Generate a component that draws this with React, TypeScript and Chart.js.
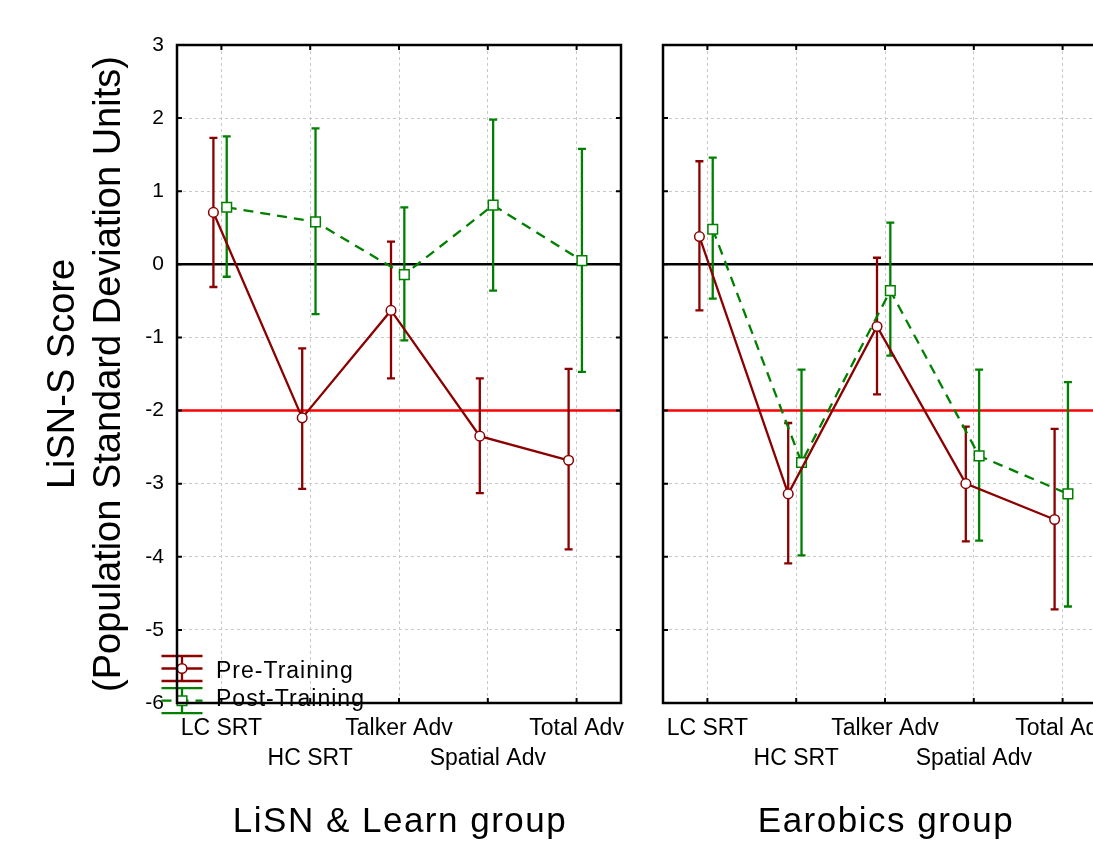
import React, { useEffect, useRef } from 'react';
import { Chart, registerables } from 'chart.js';

Chart.register(...registerables);

// ---------- data ----------
const categories = ['LC SRT', 'HC SRT', 'Talker Adv', 'Spatial Adv', 'Total Adv'];
const groupTitles = ['LiSN & Learn group', 'Earobics group'];
const seriesLabels = ['Pre-Training', 'Post-Training'];
const yTitleLines = ['LiSN-S Score', '(Population Standard Deviation Units)'];

// LiSN & Learn group
const lisnPre = [0.71, -2.1, -0.63, -2.35, -2.68];
const lisnPreLow = [-0.31, -3.07, -1.56, -3.13, -3.9];
const lisnPreHigh = [1.73, -1.15, 0.31, -1.56, -1.43];
const lisnPost = [0.78, 0.58, -0.14, 0.81, 0.05];
const lisnPostLow = [-0.17, -0.68, -1.04, -0.36, -1.47];
const lisnPostHigh = [1.75, 1.86, 0.78, 1.98, 1.58];

// Earobics group
const earoPre = [0.38, -3.14, -0.85, -3.0, -3.49];
const earoPreLow = [-0.63, -4.09, -1.78, -3.79, -4.72];
const earoPreHigh = [1.41, -2.17, 0.09, -2.22, -2.25];
const earoPost = [0.48, -2.71, -0.36, -2.62, -3.14];
const earoPostLow = [-0.47, -3.98, -1.25, -3.78, -4.68];
const earoPostHigh = [1.46, -1.44, 0.57, -1.44, -1.61];

const zeroValue = 0;
const cutoffValue = -2;
const yMin = -6;
const yMax = 3;

// ---------- style ----------
const PRE_COLOR = '#8b0000';
const POST_COLOR = '#008000';
const GRID_COLOR = '#c8c8c8';
const FONT = "'Liberation Sans', Arial, sans-serif";
const PRE_OFFSET = -0.09;
const POST_OFFSET = 0.06;
const POST_DASH = [10, 7];

type Panel = {
  title: string;
  pre: number[];
  preLow: number[];
  preHigh: number[];
  post: number[];
  postLow: number[];
  postHigh: number[];
};

const panels: Panel[] = [
  { title: groupTitles[0], pre: lisnPre, preLow: lisnPreLow, preHigh: lisnPreHigh, post: lisnPost, postLow: lisnPostLow, postHigh: lisnPostHigh },
  { title: groupTitles[1], pre: earoPre, preLow: earoPreLow, preHigh: earoPreHigh, post: earoPost, postLow: earoPostLow, postHigh: earoPostHigh },
];

function errorBarPlugin(p: Panel) {
  const bars = [
    { offset: PRE_OFFSET, low: p.preLow, high: p.preHigh, color: PRE_COLOR },
    { offset: POST_OFFSET, low: p.postLow, high: p.postHigh, color: POST_COLOR },
  ];
  return {
    id: 'errorBars',
    beforeDatasetDraw(chart: any, args: any) {
      if (args.index !== 1) return;
      const { ctx } = chart;
      const x = chart.scales.x;
      const y = chart.scales.y;
      ctx.save();
      ctx.lineWidth = 2.3;
      for (const b of bars) {
        ctx.strokeStyle = b.color;
        b.low.forEach((lo, i) => {
          const px = x.getPixelForValue(i + b.offset);
          const y1 = y.getPixelForValue(lo);
          const y2 = y.getPixelForValue(b.high[i]);
          ctx.beginPath();
          ctx.moveTo(px, y1);
          ctx.lineTo(px, y2);
          ctx.moveTo(px - 4, y1);
          ctx.lineTo(px + 4, y1);
          ctx.moveTo(px - 4, y2);
          ctx.lineTo(px + 4, y2);
          ctx.stroke();
        });
      }
      ctx.restore();
    },
  };
}

const legendPlugin = {
  id: 'customLegend',
  afterDatasetsDraw(chart: any) {
    const { ctx } = chart;
    const { left, bottom } = chart.chartArea;
    const cx = left + 5;
    const x0 = cx - 20.5;
    const x1 = cx + 20.5;
    const rows = [
      { mid: bottom - 34.5, color: PRE_COLOR, dash: [] as number[], marker: 'circle', text: seriesLabels[0], base: 9 },
      { mid: bottom - 2.3, color: POST_COLOR, dash: POST_DASH, marker: 'rect', text: seriesLabels[1], base: 5 },
    ];
    ctx.save();
    for (const r of rows) {
      ctx.strokeStyle = r.color;
      ctx.lineWidth = 2.3;
      ctx.setLineDash([]);
      ctx.beginPath();
      ctx.moveTo(x0, r.mid - 12.5);
      ctx.lineTo(x1, r.mid - 12.5);
      ctx.moveTo(x0, r.mid + 12.5);
      ctx.lineTo(x1, r.mid + 12.5);
      ctx.moveTo(cx, r.mid - 12.5);
      ctx.lineTo(cx, r.mid + 12.5);
      ctx.stroke();
      ctx.setLineDash(r.dash);
      ctx.beginPath();
      ctx.moveTo(x0, r.mid);
      ctx.lineTo(x1, r.mid);
      ctx.stroke();
      ctx.setLineDash([]);
      ctx.fillStyle = '#fff';
      ctx.lineWidth = 1.5;
      ctx.beginPath();
      if (r.marker === 'circle') {
        ctx.arc(cx, r.mid, 4.8, 0, Math.PI * 2);
      } else {
        ctx.rect(cx - 4.8, r.mid - 4.8, 9.6, 9.6);
      }
      ctx.fill();
      ctx.stroke();
      ctx.fillStyle = '#000';
      ctx.font = `23px ${FONT}`;
      (ctx as any).letterSpacing = '1px';
      ctx.textAlign = 'left';
      ctx.textBaseline = 'alphabetic';
      ctx.fillText(r.text, left + 39, r.mid + r.base);
      (ctx as any).letterSpacing = '0px';
    }
    ctx.restore();
  },
};

function framePlugin(title: string, withYTitle: boolean) {
  return {
    id: 'frame',
    afterDraw(chart: any) {
      const { ctx } = chart;
      const { left, right, top, bottom } = chart.chartArea;
      const x = chart.scales.x;
      const y = chart.scales.y;
      ctx.save();
      ctx.strokeStyle = '#000';
      ctx.lineWidth = 2.5;
      ctx.strokeRect(left, top, right - left, bottom - top);
      ctx.lineWidth = 2;
      ctx.beginPath();
      for (const t of y.ticks) {
        if (t.value === yMin || t.value === yMax) continue;
        const py = y.getPixelForValue(t.value);
        ctx.moveTo(left, py);
        ctx.lineTo(left + 5, py);
        ctx.moveTo(right, py);
        ctx.lineTo(right - 5, py);
      }
      for (const t of x.ticks) {
        const px = x.getPixelForValue(t.value);
        ctx.moveTo(px, top);
        ctx.lineTo(px, top + 5);
        ctx.moveTo(px, bottom);
        ctx.lineTo(px, bottom - 5);
      }
      ctx.stroke();

      // group title
      ctx.fillStyle = '#000';
      ctx.font = `35px ${FONT}`;
      (ctx as any).letterSpacing = '1.5px';
      ctx.textAlign = 'center';
      ctx.textBaseline = 'alphabetic';
      ctx.fillText(title, (left + right) / 2 + 1, 832);
      (ctx as any).letterSpacing = '0px';

      if (withYTitle) {
        const cy = (top + bottom) / 2;
        ctx.font = `38px ${FONT}`;
        ctx.save();
        ctx.translate(73.5, cy);
        ctx.rotate(-Math.PI / 2);
        ctx.fillText(yTitleLines[0], 0, 0);
        ctx.restore();
        ctx.save();
        ctx.translate(120, cy);
        ctx.rotate(-Math.PI / 2);
        ctx.fillText(yTitleLines[1], 0, 0);
        ctx.restore();
      }
      ctx.restore();
    },
  };
}

function makeConfig(p: Panel, yAxisWidth: number, padRight: number, first: boolean): any {
  const toPts = (vals: number[], off: number) => vals.map((v, i) => ({ x: i + off, y: v }));
  const span = (v: number) => [
    { x: -0.5, y: v },
    { x: categories.length - 0.5, y: v },
  ];
  const plugins: any[] = [errorBarPlugin(p)];
  if (first) plugins.push(legendPlugin);
  plugins.push(framePlugin(p.title, first));
  return {
    type: 'line',
    data: {
      datasets: [
        {
          label: seriesLabels[0],
          data: toPts(p.pre, PRE_OFFSET),
          borderColor: PRE_COLOR,
          borderWidth: 2.3,
          pointStyle: 'circle',
          pointRadius: 4.8,
          pointBorderWidth: 1.5,
          pointBackgroundColor: '#fff',
          pointBorderColor: PRE_COLOR,
          tension: 0,
          fill: false,
        },
        {
          label: seriesLabels[1],
          data: toPts(p.post, POST_OFFSET),
          borderColor: POST_COLOR,
          borderWidth: 2.3,
          borderDash: POST_DASH,
          pointStyle: 'rect',
          pointRadius: 6.8,
          pointBorderWidth: 1.5,
          pointBackgroundColor: '#fff',
          pointBorderColor: POST_COLOR,
          tension: 0,
          fill: false,
        },
        {
          label: 'zero',
          data: span(zeroValue),
          borderColor: '#000',
          borderWidth: 2.5,
          pointRadius: 0,
        },
        {
          label: 'cutoff',
          data: span(cutoffValue),
          borderColor: '#ff0000',
          borderWidth: 2.5,
          pointRadius: 0,
        },
      ],
    },
    options: {
      animation: false,
      responsive: false,
      maintainAspectRatio: false,
      events: [],
      layout: { padding: { top: 45, right: padRight, bottom: 0, left: 0 } },
      plugins: { legend: { display: false }, tooltip: { enabled: false }, title: { display: false } },
      scales: {
        x: {
          type: 'linear',
          min: -0.5,
          max: categories.length - 0.5,
          afterBuildTicks: (s: any) => {
            s.ticks = categories.map((_, i) => ({ value: i }));
          },
          afterFit: (s: any) => {
            s.height = 138;
          },
          grid: { color: GRID_COLOR, lineWidth: 1, drawTicks: false },
          border: { display: false, dash: [3, 3] },
          ticks: {
            autoSkip: false,
            maxRotation: 0,
            minRotation: 0,
            padding: 11,
            color: '#000',
            font: { family: FONT, size: 23, lineHeight: '30px' },
            callback: (v: any) => {
              const i = Math.round(Number(v));
              return i % 2 === 0 ? [categories[i]] : ['', categories[i]];
            },
          },
        },
        y: {
          min: yMin,
          max: yMax,
          afterFit: (s: any) => {
            s.width = yAxisWidth;
          },
          grid: { color: GRID_COLOR, lineWidth: 1, drawTicks: false },
          border: { display: false, dash: [3, 3] },
          ticks: {
            stepSize: 1,
            display: first,
            padding: 13,
            color: '#000',
            font: { family: FONT, size: 21 },
          },
        },
      },
    },
    plugins,
  };
}

function PanelChart({ panel, left, width, yAxisWidth, padRight, first }: any) {
  const ref = useRef<HTMLCanvasElement | null>(null);
  useEffect(() => {
    if (!ref.current) return;
    const chart = new Chart(ref.current, makeConfig(panel, yAxisWidth, padRight, first));
    return () => chart.destroy();
  }, []);
  return (
    <canvas
      ref={ref}
      width={width}
      height={841}
      style={{ position: 'absolute', left, top: 0, width, height: 841 }}
    />
  );
}

export default function App() {
  return (
    <div
      style={{
        position: 'fixed',
        left: 0,
        top: 0,
        width: 1093,
        height: 841,
        overflow: 'hidden',
        background: '#fff',
      }}
    >
      <PanelChart panel={panels[0]} left={0} width={640} yAxisWidth={177} padRight={19} first={true} />
      <PanelChart panel={panels[1]} left={640} width={500} yAxisWidth={23} padRight={33} first={false} />
    </div>
  );
}
